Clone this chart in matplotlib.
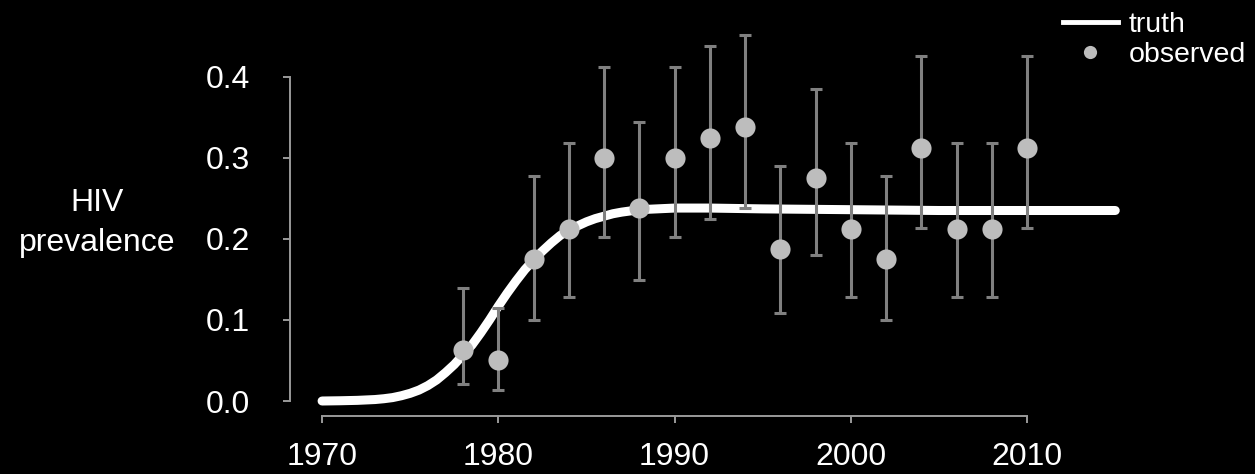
# -*- coding: utf-8 -*-
"""
HIV prevalence: true curve vs observed survey points with error bars.
"""

import matplotlib
matplotlib.use('Agg')
import matplotlib.pyplot as plt
from matplotlib.lines import Line2D

# True prevalence curve
truthYears = [1970, 1971, 1972, 1973, 1973.5, 1974, 1974.5, 1975, 1975.5,
              1976, 1976.5, 1977, 1977.5, 1978, 1978.5, 1979, 1979.5, 1980,
              1980.5, 1981, 1981.5, 1982, 1982.5, 1983, 1983.5, 1984,
              1984.5, 1985, 1985.5, 1986, 1986.5, 1987, 1988, 1989, 1990,
              1992, 1995, 2000, 2005, 2010, 2015]
truthPrev = [0.0, 0.0003, 0.0008, 0.0018, 0.0028, 0.0042, 0.0065, 0.0095,
             0.0135, 0.019, 0.026, 0.035, 0.045, 0.057, 0.069, 0.084,
             0.100, 0.117, 0.133, 0.148, 0.162, 0.174, 0.185, 0.195, 0.204,
             0.211, 0.216, 0.221, 0.225, 0.228, 0.231, 0.233, 0.236, 0.237,
             0.238, 0.238, 0.237, 0.236, 0.235, 0.235, 0.235]

# Observed survey values with lower/upper bounds
obsYears = [1978, 1980, 1982, 1984, 1986, 1988, 1990, 1992, 1994, 1996,
            1998, 2000, 2002, 2004, 2006, 2008, 2010]
obsPrev = [0.0625, 0.05, 0.175, 0.2125, 0.3, 0.2375, 0.3, 0.325, 0.3375,
           0.1875, 0.275, 0.2125, 0.175, 0.3125, 0.2125, 0.2125, 0.3125]
obsLow = [0.021, 0.014, 0.10, 0.128, 0.202, 0.149, 0.202, 0.224, 0.238,
          0.109, 0.18, 0.128, 0.10, 0.213, 0.128, 0.128, 0.213]
obsHigh = [0.14, 0.115, 0.277, 0.318, 0.412, 0.344, 0.412, 0.438, 0.452,
           0.29, 0.385, 0.318, 0.277, 0.425, 0.318, 0.318, 0.425]

xTicks = [1970, 1980, 1990, 2000, 2010]
yTicks = [0.0, 0.1, 0.2, 0.3, 0.4]

plt.rcParams['font.family'] = ['Liberation Sans', 'DejaVu Sans']
axisGrey = '#9a9a9a'
fontSize = 23

fig = plt.figure(figsize=(12.55, 4.74), dpi=100, facecolor='black')
ax = fig.add_axes([290/1255, 58/474, 857/1255, 396/474], facecolor='black')

# truth line
ax.plot(truthYears, truthPrev, color='white', lw=6.5,
        solid_capstyle='round', solid_joinstyle='round', zorder=2)

# error bars on top of the line
errLow = [p - lo for p, lo in zip(obsPrev, obsLow)]
errHigh = [hi - p for p, hi in zip(obsPrev, obsHigh)]
ax.errorbar(obsYears, obsPrev, yerr=[errLow, errHigh], fmt='none',
            ecolor='#808080', elinewidth=2.2, capsize=4, capthick=2.2,
            zorder=3)
ax.plot(obsYears, obsPrev, 'o', color='#bdbdbd', ms=14.5, mec='none',
        zorder=4)

ax.set_xlim(1968.18, 2016.8)
ax.set_ylim(-0.0185, 0.47)

# R-style axes
for s in ['top', 'right']:
    ax.spines[s].set_visible(False)
ax.spines['left'].set_bounds(0, 0.4)
ax.spines['bottom'].set_bounds(1970, 2010)
for s in ['left', 'bottom']:
    ax.spines[s].set_color(axisGrey)
    ax.spines[s].set_linewidth(1.4)

ax.set_xticks(xTicks)
ax.set_xticklabels([str(x) for x in xTicks])
ax.set_yticks(yTicks)
ax.set_yticklabels(['%.1f' % y for y in yTicks])
ax.tick_params(axis='both', direction='out', length=5, width=1.4,
               color=axisGrey, labelcolor='white', labelsize=fontSize)
ax.tick_params(axis='x', pad=14)
ax.tick_params(axis='y', pad=24)

fig.text(97/1255, 1 - 223/474, 'HIV\nprevalence', ha='center', va='center',
         multialignment='center', color='white', fontsize=fontSize,
         linespacing=1.45)

# legend
custom_lines = [Line2D([0], [0], color='white', lw=3.5),
                Line2D([0], [0], marker='o', color='none', mfc='#bdbdbd',
                       mec='none', ms=9.5)]
leg = fig.legend(custom_lines, ['truth', 'observed'], loc='upper left',
                 bbox_to_anchor=(1063/1255, 1 - 12/474), frameon=False,
                 fontsize=20.5, handlelength=1.93, handletextpad=0.39,
                 labelspacing=0.13, borderpad=0, borderaxespad=0)
for t in leg.get_texts():
    t.set_color('white')

fig.savefig('out.png', dpi=100, facecolor='black')
